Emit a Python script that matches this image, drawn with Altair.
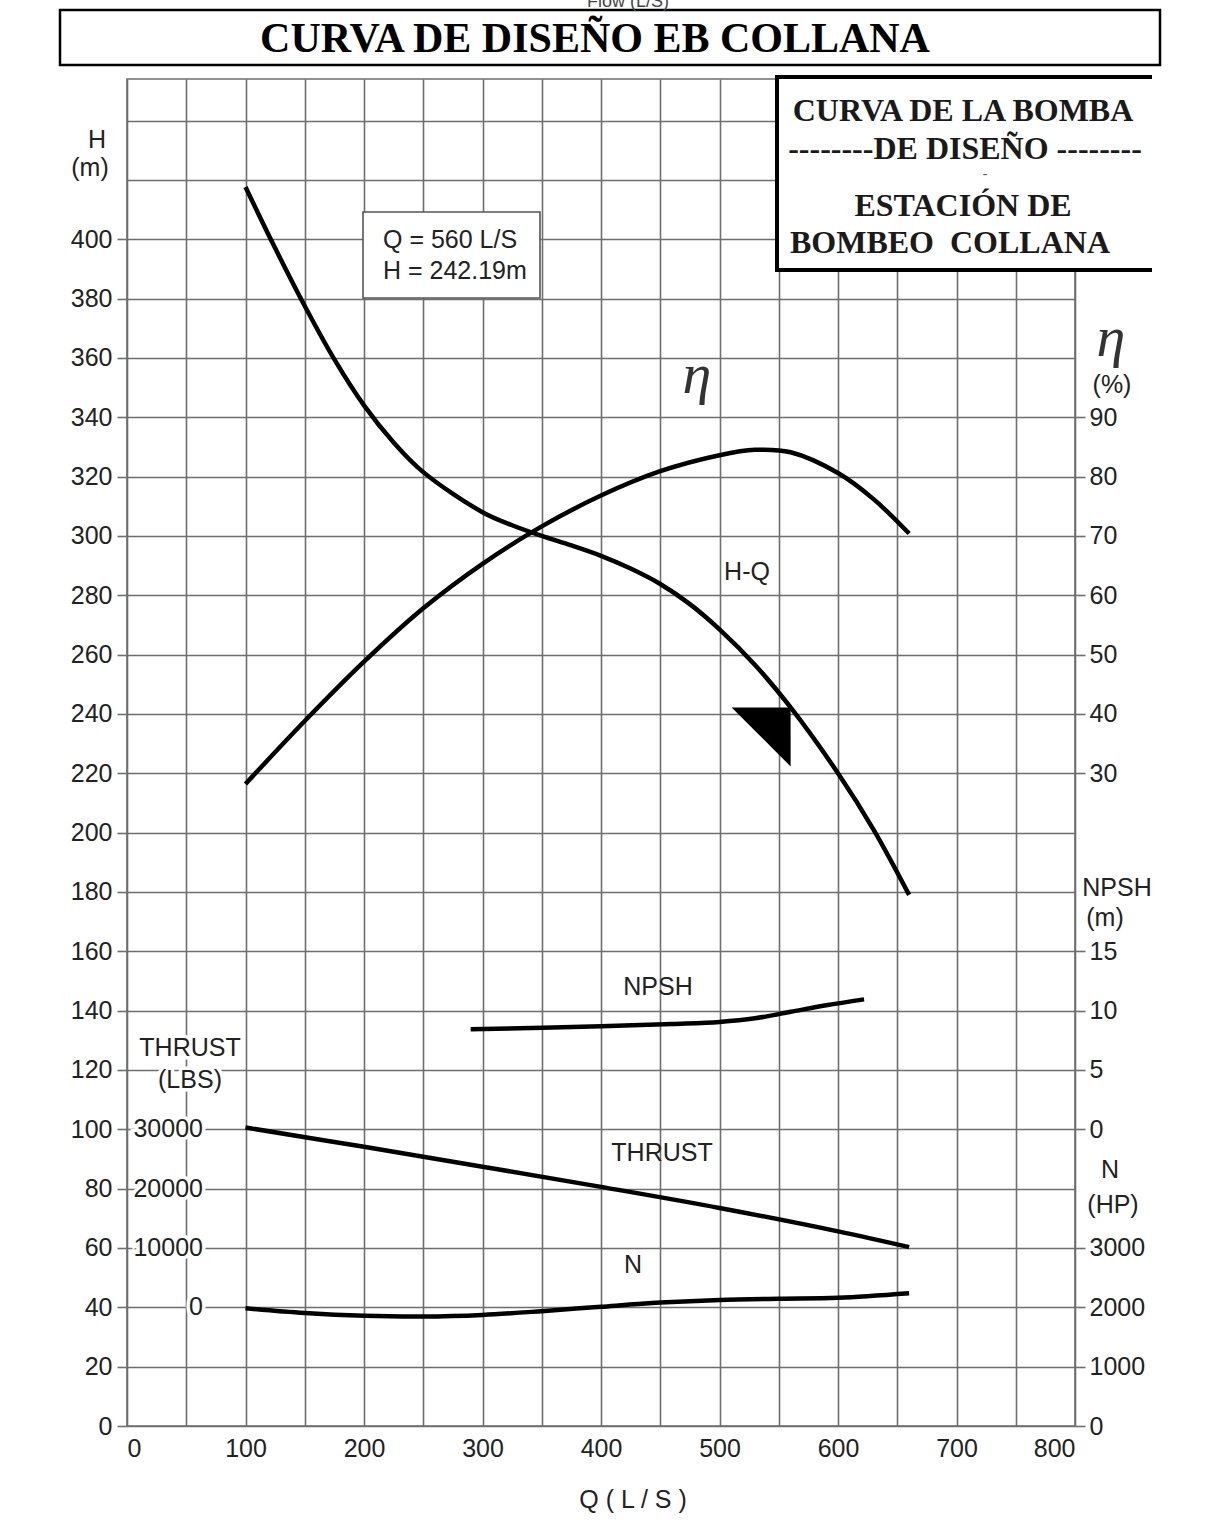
import altair as alt
import pandas as pd

# ---- pump curve readings (Q in L/s) ----
HQ_Q = [100, 125, 150, 175, 200, 225, 250, 300, 325, 350, 375, 400, 425, 450, 475, 500, 530, 560, 600, 630, 660]
HQ_H = [417.6, 397, 377.5, 359.5, 344, 331.5, 321.5, 308, 303.6, 300, 296.8, 293.3, 289, 283.8, 277, 268.5,
        256.5, 242.19, 220, 201, 179]

EFF_Q = [100, 150, 200, 250, 300, 350, 400, 450, 500, 530, 560, 600, 630, 660]
EFF_PCT = [28.2, 38.8, 48.8, 57.8, 65.3, 71.6, 76.8, 80.9, 83.6, 84.5, 84.1, 80.6, 76.2, 70.4]

NPSH_Q = [290, 400, 460, 500, 530, 560, 590, 622]
NPSH_M = [8.43, 8.68, 8.88, 9.05, 9.35, 9.9, 10.45, 10.95]

THRUST_Q = [100, 200, 300, 400, 500, 600, 660]
THRUST_LBS = [30300, 27050, 23700, 20300, 16750, 12800, 10150]

POWER_Q = [100, 150, 200, 250, 300, 350, 400, 450, 500, 550, 600, 660]
POWER_HP = [1984, 1905, 1858, 1845, 1872, 1935, 2010, 2080, 2125, 2145, 2160, 2236]

# design point
DESIGN_Q = [560]
DESIGN_H = [242.19]

# axis tick values
H_TICKS = list(range(0, 441, 20))
Q_TICKS = list(range(0, 801, 50))
EFF_TICKS = [30, 40, 50, 60, 70, 80, 90]
NPSH_TICKS = [0, 5, 10, 15]
POWER_TICKS = [0, 1000, 2000, 3000]
THRUST_TICKS = [0, 10000, 20000, 30000]

# ---- scale domains (all secondary scales aligned to the head grid) ----
H_DOM = [0, 454]
EFF_DOM = [-80, 147]        # eta = 30 + (H - 220) / 2
NPSH_DOM = [-25, 88.5]      # NPSH = (H - 100) / 4
POWER_DOM = [0, 22700]      # N = 50 * H
THRUST_DOM = [-20000, 207000]  # T = 500 * (H - 40)

W, HGT = 948, 1347
SANS = "Liberation Sans"
SERIF = "Liberation Serif"
GRID = "#6e6e6e"
TXT = "#222222"
FS = 25

hq = pd.DataFrame({"q": HQ_Q, "h": HQ_H})
eff = pd.DataFrame({"q": EFF_Q, "v": EFF_PCT})
npsh = pd.DataFrame({"q": NPSH_Q, "v": NPSH_M})
thr = pd.DataFrame({"q": THRUST_Q, "v": THRUST_LBS})
pwr = pd.DataFrame({"q": POWER_Q, "v": POWER_HP})
design = pd.DataFrame({"q": DESIGN_Q, "h": DESIGN_H})
thr_ticks = pd.DataFrame({"t": THRUST_TICKS, "lab": [str(v) for v in THRUST_TICKS]})
one = pd.DataFrame({"_": [0]})

x_axis = alt.Axis(
    values=Q_TICKS, labelExpr="datum.value % 100 == 0 ? datum.label : ''",
    grid=True, ticks=False, domain=False, title=None, labelPadding=10,
)
X = alt.X("q:Q", scale=alt.Scale(domain=[0, 800], nice=False), axis=x_axis)


def right_axis(vals):
    return alt.Axis(orient="right", values=vals, grid=False, domain=False, format="d",
                    tickSize=10, labelPadding=4, title=None)


line_kw = dict(color="black", strokeWidth=4.5, interpolate="catmull-rom", strokeCap="butt")

hq_line = alt.Chart(hq).mark_line(**line_kw).encode(
    x=X,
    y=alt.Y("h:Q", scale=alt.Scale(domain=H_DOM, nice=False, zero=False),
            axis=alt.Axis(values=H_TICKS, grid=True, domain=False, tickSize=10,
                          labelPadding=5, title=None,
                          labelExpr="datum.value <= 400 ? datum.label : ''",
                          tickOpacity={"condition": {"test": "datum.value > 400", "value": 0}, "value": 1})),
)

eff_line = alt.Chart(eff).mark_line(**line_kw).encode(
    x=X,
    y=alt.Y("v:Q", scale=alt.Scale(domain=EFF_DOM, nice=False, zero=False), axis=right_axis(EFF_TICKS)),
)

npsh_line = alt.Chart(npsh).mark_line(**line_kw).encode(
    x=X,
    y=alt.Y("v:Q", scale=alt.Scale(domain=NPSH_DOM, nice=False, zero=False), axis=right_axis(NPSH_TICKS)),
)

pwr_line = alt.Chart(pwr).mark_line(**line_kw).encode(
    x=X,
    y=alt.Y("v:Q", scale=alt.Scale(domain=POWER_DOM, nice=False, zero=False), axis=right_axis(POWER_TICKS)),
)

thr_line = alt.Chart(thr).mark_line(**line_kw).encode(
    x=X,
    y=alt.Y("v:Q", scale=alt.Scale(domain=THRUST_DOM, nice=False, zero=False), axis=None),
)

# thrust scale labels sit inside the grid with a white halo
thr_y = alt.Y("t:Q", scale=alt.Scale(domain=THRUST_DOM, nice=False, zero=False), axis=None)
thr_halo = alt.Chart(thr_ticks).mark_text(
    align="right", baseline="middle", font=SANS, fontSize=FS, color="white",
    stroke="white", strokeWidth=7,
).encode(x=alt.value(76), y=thr_y, text="lab:N")
thr_text = alt.Chart(thr_ticks).mark_text(
    align="right", baseline="middle", font=SANS, fontSize=FS, color=TXT,
).encode(x=alt.value(76), y=thr_y, text="lab:N")

# operating point marker: right-angled triangle hanging from the point
design_mark = alt.Chart(design).mark_point(
    shape="M0,0 L-2,0 L0,2 Z", filled=True, color="black", opacity=1, size=3481, strokeWidth=0,
).encode(
    x=X,
    y=alt.Y("h:Q", scale=alt.Scale(domain=H_DOM, nice=False, zero=False), axis=None),
)


def txt(s, x, y, size=FS, font=SANS, align="center", baseline="middle",
        weight="normal", style="normal", color=TXT, halo=False):
    kw = dict(text=s, align=align, baseline=baseline, font=font, fontSize=size,
              fontWeight=weight, fontStyle=style)
    layers = []
    if halo:
        layers.append(alt.Chart(one).mark_text(color="white", stroke="white", strokeWidth=7, **kw)
                      .encode(x=alt.value(x), y=alt.value(y)))
    layers.append(alt.Chart(one).mark_text(color=color, **kw).encode(x=alt.value(x), y=alt.value(y)))
    return layers


def rect(x1, y1, x2, y2, fill="white", stroke=None, sw=0):
    kw = dict(fill=fill)
    if stroke:
        kw.update(stroke=stroke, strokeWidth=sw)
    return alt.Chart(one).mark_rect(**kw).encode(
        x=alt.value(x1), x2=alt.value(x2), y=alt.value(y1), y2=alt.value(y2))


def rule(x1, y1, x2, y2, sw=4, color="black"):
    return alt.Chart(one).mark_rule(color=color, strokeWidth=sw, strokeCap="square").encode(
        x=alt.value(x1), x2=alt.value(x2), y=alt.value(y1), y2=alt.value(y2))


deco = []
# page title box
deco.append(rect(-67, -69, 1033, -14, fill="white", stroke="black", sw=2.5))
deco += txt("CURVA DE DISEÑO EB COLLANA", 468, -40, size=42, font=SERIF, weight="bold", color="black")
deco += txt("Flow (L/S)", 501, -77, size=18, color="#444444")

# station box, upper right
deco.append(rect(650, -2, 1023, 191, fill="white"))
deco.append(rule(650, -2, 1023, -2))
deco.append(rule(650, -2, 650, 191))
deco.append(rule(650, 191, 1023, 191))
deco += txt("CURVA DE LA BOMBA", 836, 32, size=32, font=SERIF, weight="bold", color="#1a1a1a")
deco += txt("--------DE DISEÑO --------", 838, 70, size=32, font=SERIF, weight="bold", color="#1a1a1a")
deco += txt("-", 858, 95, size=14, font=SERIF, color="#555555")
deco += txt("ESTACIÓN DE", 836, 127, size=32, font=SERIF, weight="bold", color="#1a1a1a")
deco += txt("BOMBEO\u00a0 COLLANA", 823, 164, size=32, font=SERIF, weight="bold", color="#1a1a1a")

# design point callout
deco.append(rect(236, 133, 413, 219, fill="white", stroke="#555555", sw=1.6))
deco += txt(f"Q = {DESIGN_Q[0]} L/S", 256, 161, align="left")
deco += txt(f"H = {DESIGN_H[0]}m", 256, 192, align="left")

# curve names
deco += txt("\u03b7", 570, 314, size=58, font=SERIF, style="italic", baseline="alphabetic", color="#333333")
deco += txt("H-Q", 620, 493)
deco += txt("NPSH", 531, 908)
deco += txt("THRUST", 535, 1074)
deco += txt("N", 506, 1186)

# axis headings
deco += txt("H", -30, 61)
deco += txt("(m)", -37, 89)
deco += txt("THRUST", 63, 969, halo=True)
deco += txt("(LBS)", 63, 1001, halo=True)
deco += txt("\u03b7", 984, 277, size=58, font=SERIF, style="italic", baseline="alphabetic", color="#333333")
deco += txt("(%)", 985, 306)
deco += txt("NPSH", 990, 809)
deco += txt("(m)", 978, 839)
deco += txt("N", 983, 1091)
deco += txt("(HP)", 986, 1126)
deco += txt("Q ( L / S )", 506, 1421)

chart = alt.layer(
    hq_line, eff_line, npsh_line, pwr_line, thr_line,
    thr_halo, thr_text, design_mark, *deco,
).resolve_scale(
    y="independent"
).properties(
    width=W, height=HGT,
    autosize=alt.AutoSizeParams(type="none"),
    padding={"left": 127, "top": 79, "right": 147, "bottom": 101},
    background="white",
).configure_view(
    stroke=GRID, strokeWidth=1.6,
).configure_axis(
    labelFont=SANS, labelFontSize=FS, labelColor=TXT,
    gridColor=GRID, gridWidth=1.6, gridOpacity=1,
    tickColor=GRID, tickWidth=1.6,
)

chart.save("out.html", embed_options={"renderer": "svg", "actions": False})
